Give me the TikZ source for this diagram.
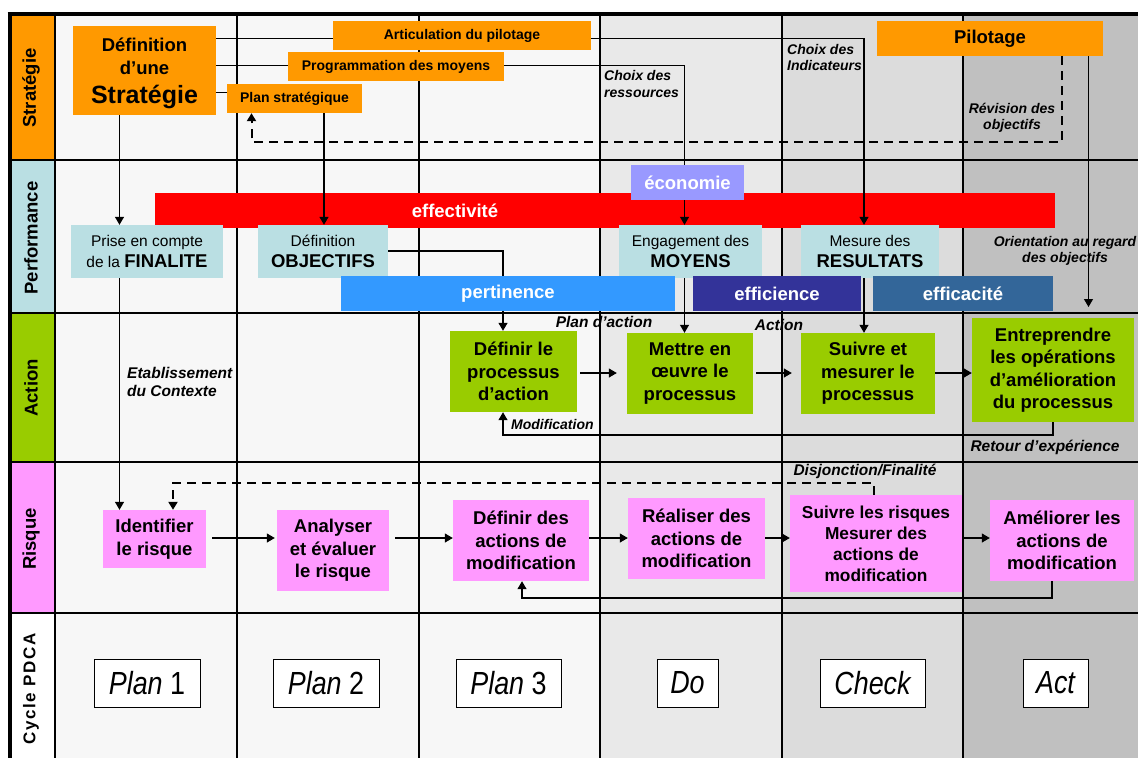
\documentclass[tikz,border=0pt]{standalone}
\usepackage{fontspec}
\setmainfont{Liberation Sans}
\usepackage{graphicx}
\usetikzlibrary{arrows.meta,shadows}
\definecolor{cOrange}{HTML}{FF9900}
\definecolor{cLBlue}{HTML}{BADFE3}
\definecolor{cGreen}{HTML}{99CC00}
\definecolor{cPink}{HTML}{FF99FF}
\definecolor{cEco}{HTML}{9999FF}
\definecolor{cPert}{HTML}{3399FF}
\definecolor{cEffi}{HTML}{333399}
\definecolor{cEffa}{HTML}{336699}
\definecolor{colA}{HTML}{F7F7F7}
\definecolor{colB}{HTML}{E9E9E9}
\definecolor{colC}{HTML}{DCDCDC}
\definecolor{colD}{HTML}{C0C0C0}
\pgfdeclarelayer{bg}
\pgfdeclarelayer{bars}
\pgfdeclarelayer{lines}
\pgfsetlayers{bg,bars,lines,main}
\newcommand{\pdtxt}[1]{\scalebox{0.84}[1]{\fontsize{32}{32}\selectfont #1}}
\begin{document}
\begin{tikzpicture}[x=1pt,y=-1pt,
  box/.style={inner sep=0pt, align=center, font=\bfseries\fontsize{18.5}{22.5}\selectfont},
  obox/.style={box, fill=cOrange},
  gbox/.style={box, fill=cGreen},
  pbox/.style={box, fill=cPink},
  bbox/.style={inner sep=0pt, align=center, fill=cLBlue, font=\fontsize{15.5}{21.7}\selectfont},
  bar/.style={inner sep=0pt, text=white, font=\bfseries\fontsize{18.5}{20}\selectfont},
  lab/.style={inner sep=0pt, font=\bfseries\itshape\fontsize{14}{16.5}\selectfont},
  labB/.style={lab, font=\bfseries\itshape\fontsize{15.5}{18}\selectfont},
  arr/.style={-{Triangle[width=9pt,length=8pt]}, line width=1.2pt},
  ln/.style={line width=1.2pt},
  dsh/.style={dashed, dash pattern=on 9pt off 6pt, line width=2pt},
  pdca/.style={draw, fill=white, line width=0.9pt, inner sep=0pt,
    drop shadow={shadow xshift=1.3pt, shadow yshift=-1.3pt, fill=black!55, opacity=1}},
  rowlab/.style={rotate=90, inner sep=0pt, font=\bfseries\fontsize{18.5}{20}\selectfont}
]
\useasboundingbox (0,0) rectangle (1138,758);
\begin{pgfonlayer}{bg}
\fill[white] (0,0) rectangle (1138,758);
\fill[colA] (55,14) rectangle (600,758);
\fill[colB] (600,14) rectangle (782,758);
\fill[colC] (782,14) rectangle (963,758);
\fill[colD] (963,14) rectangle (1138,758);
\fill[cOrange] (11,14) rectangle (55,160);
\fill[cLBlue] (11,160) rectangle (55,313);
\fill[cGreen] (11,313) rectangle (55,462);
\fill[cPink] (11,462) rectangle (55,613);
\fill[white] (11,613) rectangle (55,758);
\foreach \x in {237,419,600,782,963} \draw[line width=1.3pt] (\x,14) -- (\x,758);
\draw[line width=2pt] (55,14) -- (55,758);
\foreach \y in {160,313,462,613} \draw[line width=1.6pt] (9.5,\y) -- (1138,\y);
\draw[line width=4pt] (7.5,14) -- (1138,14);
\draw[line width=4pt] (9.5,12) -- (9.5,758);
\end{pgfonlayer}

% row labels
\node[rowlab] (r1) at (31,88) {Stratégie};
\node[rowlab] (r2) at (31,238) {Performance};
\node[rowlab] (r3) at (31,388) {Action};
\node[rowlab] (r4) at (31,539) {Risque};
\node[rowlab, font=\bfseries\fontsize{17}{19}\selectfont\addfontfeature{LetterSpace=10}] (r5) at (31,689) {Cycle PDCA};

% strategy row
\node[obox, minimum width=143, minimum height=89] (def) at (144.5,70.5) {\rule{0pt}{19.5pt}Définition\\d’une\\[6.8pt]{\fontsize{25}{25}\selectfont Stratégie}};
\node[obox, font=\bfseries\fontsize{14}{16}\selectfont, minimum width=258, minimum height=29] (artic) at (462,35.5) {Articulation du pilotage};
\node[obox, font=\bfseries\fontsize{14}{16}\selectfont, minimum width=216, minimum height=29] (prog) at (396,66.5) {Programmation des moyens};
\node[obox, font=\bfseries\fontsize{14}{16}\selectfont, minimum width=135, minimum height=29] (plan) at (294.5,98.5) {Plan stratégique};
\node[obox, minimum width=226, minimum height=35] (pilot) at (990,38.5) {Pilotage};

% performance row
\begin{pgfonlayer}{bars}
\node[bar, fill=red, minimum width=900, minimum height=35] (effbar) at (605,210.5) {};
\end{pgfonlayer}
\node[bar] (efftxt) at (455,211) {effectivité};
\node[bbox, minimum width=152, minimum height=53] (prise) at (147,251.5) {Prise en compte\\de la {\bfseries\fontsize{18.5}{20}\selectfont FINALITE}};
\node[bbox, minimum width=130, minimum height=53] (obj) at (323,251.5) {Définition\\{\bfseries\fontsize{18.5}{20}\selectfont OBJECTIFS}};
\node[bbox, minimum width=143, minimum height=53] (eng) at (690.5,251.5) {Engagement des\\{\bfseries\fontsize{18.5}{20}\selectfont MOYENS}};
\node[bbox, minimum width=138, minimum height=53] (mes) at (870,251.5) {Mesure des\\{\bfseries\fontsize{18.5}{20}\selectfont RESULTATS}};
\node[bar, fill=cEco, minimum width=113, minimum height=35] (eco) at (687.5,182.5) {économie};
\node[bar, fill=cPert, minimum width=334, minimum height=35] (pert) at (508,293.5) {pertinence};
\node[bar, fill=cEffi, minimum width=168, minimum height=35] (effi) at (777,293.5) {efficience};
\node[bar, fill=cEffa, minimum width=180, minimum height=35] (effa) at (963,293.5) {efficacité};

% action row
\node[gbox, minimum width=127, minimum height=81] (defp) at (513.5,371.5) {Définir le\\processus\\d’action};
\node[gbox, minimum width=126, minimum height=81] (mett) at (690,373.5) {Mettre en\\œuvre le\\processus};
\node[gbox, minimum width=134, minimum height=81] (suiv) at (868,373.5) {Suivre et\\mesurer le\\processus};
\node[gbox, minimum width=162, minimum height=104] (entr) at (1053,370) {Entreprendre\\les opérations\\d’amélioration\\du processus};

% risk row
\node[pbox, minimum width=103, minimum height=58] (ident) at (154.5,539) {Identifier\\le risque};
\node[pbox, minimum width=112, minimum height=81] (anal) at (333,550.5) {Analyser\\et évaluer\\le risque};
\node[pbox, minimum width=136, minimum height=81] (defa) at (521,540.5) {Définir des\\actions de\\modification};
\node[pbox, minimum width=137, minimum height=81] (real) at (696.5,538.5) {Réaliser des\\actions de\\modification};
\node[pbox, font=\bfseries\fontsize{17.3}{21}\selectfont, minimum width=172, minimum height=97] (suivr) at (876,543.5) {Suivre les risques\\Mesurer des\\actions de\\modification};
\node[pbox, minimum width=144, minimum height=81] (amel) at (1062,540.5) {Améliorer les\\actions de\\modification};

% PDCA row
\node[pdca, minimum width=106, minimum height=48] (p1) at (147,683) {\pdtxt{\itshape Plan \upshape 1}};
\node[pdca, minimum width=106, minimum height=48] (p2) at (326,683) {\pdtxt{\itshape Plan \upshape 2}};
\node[pdca, minimum width=105, minimum height=48] (p3) at (508.5,683) {\pdtxt{\itshape Plan \upshape 3}};
\node[pdca, minimum width=61, minimum height=48] (pdo) at (687.5,683) {\pdtxt{\itshape Do}};
\node[pdca, minimum width=105, minimum height=48] (pcheck) at (872.5,683) {\pdtxt{\itshape Check}};
\node[pdca, minimum width=65, minimum height=48] (pact) at (1055.5,683) {\pdtxt{\itshape Act}};

% labels
\node[lab, align=left, anchor=west] (l1) at (604,84) {Choix des\\ressources};
\node[lab, align=left, anchor=west] (l2) at (787,57.5) {Choix des\\Indicateurs};
\node[lab, align=center] (l3) at (1012,118) {Révision des\\objectifs};
\node[lab, align=center] (l4) at (1065,251) {Orientation au regard\\des objectifs};
\node[labB, align=left, anchor=west] (l5) at (127,382) {Etablissement\\du Contexte};
\node[labB] (l6) at (604,322) {Plan d’action};
\node[labB] (l7) at (779,325) {Action};
\node[lab, anchor=west] (l8) at (511,424) {Modification};
\node[labB] (l9) at (1045,447) {Retour d’expérience};
\node[labB] (l10) at (865,471) {Disjonction/Finalité};

% connectors
\begin{pgfonlayer}{lines}
\coordinate (k1) at (864,38.7);
\draw[arr] (def.east |- k1) -- (k1) -- (k1 |- mes.north);
\coordinate (k2) at (684.5,65.7);
\draw[arr] (def.east |- k2) -- (k2) -- (k2 |- eng.north);
\coordinate (k3) at (240,92.7);
\draw[ln] (def.east |- k3) -- (plan.west |- k3);
\coordinate (k4) at (324,180);
\draw[arr] (plan.south -| k4) -- (k4 |- obj.north);
\coordinate (k5) at (119.5,200);
\draw[arr] (def.south -| k5) -- (k5 |- prise.north);
\draw[arr] (prise.south -| k5) -- (k5 |- ident.north);
\coordinate (k6) at (503,251);
\draw[arr] (obj.east |- k6) -- (k6) -- (k6 |- defp.north);
\draw[arr] (eng.south -| k2) -- (k2 |- mett.north);
\draw[arr] (mes.south -| k1) -- (k1 |- suiv.north);
\coordinate (k7) at (1088.5,307);
\draw[arr] (pilot.south -| k7) -- (k7);
\coordinate (k8) at (1062,142);
\coordinate (k9) at (251.5,142);
\draw[arr,dsh] (pilot.south -| k8) -- (k8) -- (k9) -- (k9 |- plan.south);
\coordinate (k10) at (0,373);
\draw[arr, shorten <=3pt, shorten >=10pt] (defp.east |- k10) -- (mett.west |- k10);
\draw[arr, shorten <=3pt, shorten >=9pt] (mett.east |- k10) -- (suiv.west |- k10);
\draw[arr] (suiv.east |- k10) -- (entr.west |- k10);
\coordinate (k11) at (1053,435);
\coordinate (k12) at (503,435);
\draw[arr] (entr.south -| k11) -- (k11) -- (k12) -- (k12 |- defp.south);
\coordinate (k13) at (0,538);
\draw[arr, shorten <=6pt, shorten >=2pt] (ident.east |- k13) -- (anal.west |- k13);
\draw[arr, shorten <=6pt] (anal.east |- k13) -- (defa.west |- k13);
\draw[arr] (defa.east |- k13) -- (real.west |- k13);
\draw[arr] (real.east |- k13) -- (suivr.west |- k13);
\draw[arr] (suivr.east |- k13) -- (amel.west |- k13);
\coordinate (k14) at (874,483);
\coordinate (k15) at (173,483);
\draw[arr,dsh] (suivr.north -| k14) -- (k14) -- (k15) -- (k15 |- ident.north);
\coordinate (k16) at (1052,598);
\coordinate (k17) at (522,598);
\draw[arr] (amel.south -| k16) -- (k16) -- (k17) -- (k17 |- defa.south);
\end{pgfonlayer}
\end{tikzpicture}
\end{document}
